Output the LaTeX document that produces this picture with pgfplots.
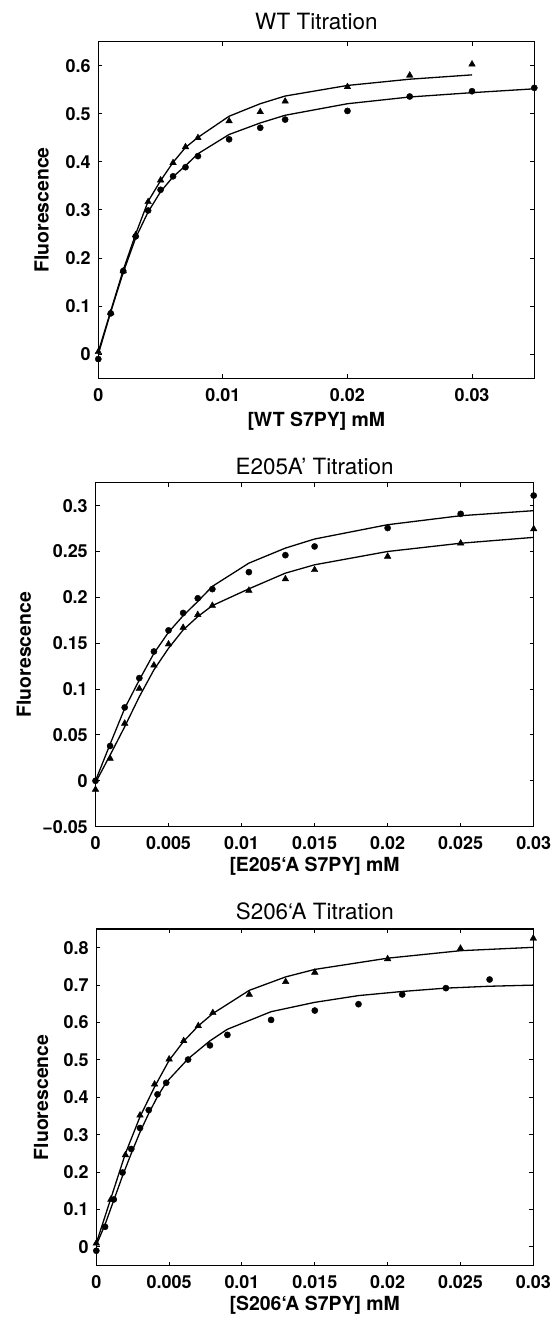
\documentclass[border=0pt]{standalone}
\usepackage{fontspec}
\setmainfont{TeX Gyre Heros}
\usepackage{pgfplots}
\pgfplotsset{compat=1.18}
\pgfplotsset{
  mystyle/.style={
    scale only axis,
    clip=false,
    axis line style={line width=1.1bp},
    every tick/.style={line width=1bp, black},
    major tick length=4bp,
    tick align=inside,
    scaled ticks=false,
    ticklabel style={font=\fontsize{18}{18}\selectfont\bfseries},
    xticklabel style={anchor=north, inner sep=0pt, yshift=-9.7bp},
    yticklabel style={anchor=east, inner sep=0pt, xshift=-7.6bp},
    every axis title/.style={font=\fontsize{22.5}{23}\selectfont, anchor=base, inner sep=0pt},
    every axis x label/.style={font=\fontsize{19.5}{20}\selectfont\bfseries, anchor=base, inner sep=0pt},
    every axis y label/.style={font=\fontsize{19.5}{20}\selectfont\bfseries, rotate=90, anchor=base, inner sep=0pt},
  },
  fitline/.style={black, line width=1.3bp, no marks},
  tri/.style={only marks, mark=triangle*, mark size=3.8bp, black},
  circ/.style={only marks, mark=*, mark size=3.1bp, black},
}
\begin{document}
\begin{tikzpicture}
\useasboundingbox (0,0) rectangle (555bp,1320bp);
% ---------------- Panel 1 ----------------
\begin{axis}[mystyle,
  at={(98.3bp,941.7bp)}, anchor=south west,
  width=436bp, height=336.6bp,
  xmin=0, xmax=0.035, ymin=-0.05, ymax=0.65,
  xtick={0,0.01,0.02,0.03}, xticklabels={0,0.01,0.02,0.03},
  ytick={0,0.1,0.2,0.3,0.4,0.5,0.6}, yticklabels={0,0.1,0.2,0.3,0.4,0.5,0.6},
  title={WT Titration},
  title style={at={(axis description cs:0.5,1.0377)}},
  xlabel={[WT S7PY] mM},
  xlabel style={at={(axis description cs:0.5,-0.1426)}},
  ylabel={Fluorescence},
  ylabel style={at={(axis description cs:-0.1142,0.5)}},
]
\addplot[fitline] coordinates {
(0,0.005) (0.001,0.090) (0.002,0.175) (0.003,0.250) (0.004,0.318) (0.005,0.361)
(0.006,0.399) (0.007,0.430) (0.008,0.451) (0.0105,0.495) (0.013,0.521) (0.015,0.537)
(0.02,0.559) (0.025,0.572) (0.03,0.581)};
\addplot[fitline] coordinates {
(0,0.0) (0.001,0.088) (0.002,0.170) (0.003,0.242) (0.004,0.296) (0.005,0.338)
(0.006,0.369) (0.007,0.392) (0.008,0.417) (0.0105,0.457) (0.013,0.481) (0.015,0.497)
(0.02,0.521) (0.025,0.535) (0.03,0.544) (0.035,0.552)};
\addplot[tri] coordinates {
(0,0.005) (0.001,0.086) (0.002,0.173) (0.003,0.248) (0.004,0.317) (0.005,0.362)
(0.006,0.398) (0.007,0.431) (0.008,0.450) (0.0105,0.485) (0.013,0.504) (0.015,0.526)
(0.02,0.556) (0.025,0.580) (0.03,0.603)};
\addplot[circ] coordinates {
(0,-0.010) (0.001,0.085) (0.002,0.173) (0.003,0.245) (0.004,0.299) (0.005,0.342)
(0.006,0.370) (0.007,0.389) (0.008,0.412) (0.0105,0.447) (0.013,0.471) (0.015,0.488)
(0.02,0.506) (0.025,0.536) (0.03,0.547) (0.035,0.554)};
\end{axis}
% ---------------- Panel 2 ----------------
\begin{axis}[mystyle,
  at={(95.5bp,493.3bp)}, anchor=south west,
  width=438.2bp, height=344bp,
  xmin=0, xmax=0.03, ymin=-0.05, ymax=0.325,
  xtick={0,0.005,0.01,0.015,0.02,0.025,0.03}, xticklabels={0,0.005,0.01,0.015,0.02,0.025,0.03},
  ytick={-0.05,0,0.05,0.1,0.15,0.2,0.25,0.3}, yticklabels={−0.05,0,0.05,0.1,0.15,0.2,0.25,0.3},
  title={E205A’ Titration},
  title style={at={(axis description cs:0.5,1.0244)}},
  xlabel={[E205‘A S7PY] mM},
  xlabel style={at={(axis description cs:0.5,-0.1294)}},
  ylabel={Fluorescence},
  ylabel style={at={(axis description cs:-0.1476,0.5)}},
]
\addplot[fitline] coordinates {
(0,0.0) (0.001,0.040) (0.002,0.079) (0.003,0.110) (0.004,0.139) (0.005,0.162)
(0.006,0.180) (0.007,0.1955) (0.008,0.212) (0.0105,0.2373) (0.013,0.2537) (0.015,0.2636)
(0.02,0.2792) (0.025,0.289) (0.03,0.2945)};
\addplot[fitline] coordinates {
(0,-0.002) (0.001,0.028) (0.002,0.059) (0.003,0.0917) (0.004,0.121) (0.005,0.1445)
(0.006,0.1645) (0.007,0.179) (0.008,0.191) (0.0105,0.2093) (0.013,0.2264) (0.015,0.2355)
(0.02,0.250) (0.025,0.259) (0.03,0.2654)};
\addplot[circ] coordinates {
(0,0.0) (0.001,0.038) (0.002,0.080) (0.003,0.112) (0.004,0.141) (0.005,0.164)
(0.006,0.183) (0.007,0.199) (0.008,0.209) (0.0105,0.2275) (0.013,0.246) (0.015,0.2555)
(0.02,0.2756) (0.025,0.291) (0.03,0.311)};
\addplot[tri] coordinates {
(0,-0.0095) (0.001,0.0244) (0.002,0.0626) (0.003,0.1005) (0.004,0.126) (0.005,0.149)
(0.006,0.167) (0.007,0.181) (0.008,0.191) (0.0105,0.2075) (0.013,0.220) (0.015,0.230)
(0.02,0.2446) (0.025,0.259) (0.03,0.2745)};
\end{axis}
% ---------------- Panel 3 ----------------
\begin{axis}[mystyle,
  at={(96.3bp,54.3bp)}, anchor=south west,
  width=437bp, height=336.7bp,
  xmin=0, xmax=0.03, ymin=-0.05, ymax=0.85,
  xtick={0,0.005,0.01,0.015,0.02,0.025,0.03}, xticklabels={0,0.005,0.01,0.015,0.02,0.025,0.03},
  ytick={0,0.1,0.2,0.3,0.4,0.5,0.6,0.7,0.8}, yticklabels={0,0.1,0.2,0.3,0.4,0.5,0.6,0.7,0.8},
  title={S206‘A Titration},
  title style={at={(axis description cs:0.5,1.0288)}},
  xlabel={[S206‘A S7PY] mM},
  xlabel style={at={(axis description cs:0.5,-0.1337)}},
  ylabel={Fluorescence},
  ylabel style={at={(axis description cs:-0.1101,0.5)}},
]
\addplot[fitline] coordinates {
(0,0.010) (0.001,0.130) (0.002,0.250) (0.003,0.348) (0.004,0.428) (0.005,0.499)
(0.006,0.550) (0.007,0.591) (0.008,0.624) (0.0105,0.686) (0.013,0.722) (0.015,0.742)
(0.02,0.772) (0.025,0.792) (0.03,0.801)};
\addplot[fitline] coordinates {
(0,0.005) (0.0006,0.060) (0.0012,0.125) (0.0018,0.190) (0.0024,0.250) (0.003,0.307)
(0.0036,0.357) (0.0042,0.402) (0.0048,0.440) (0.0063,0.503) (0.0078,0.551) (0.009,0.582)
(0.012,0.629) (0.015,0.654) (0.018,0.672) (0.021,0.683) (0.024,0.692) (0.027,0.697) (0.03,0.700)};
\addplot[tri] coordinates {
(0,0.010) (0.001,0.127) (0.002,0.246) (0.003,0.352) (0.004,0.435) (0.005,0.502)
(0.006,0.551) (0.007,0.591) (0.008,0.626) (0.0105,0.675) (0.013,0.709) (0.015,0.734)
(0.02,0.770) (0.025,0.798) (0.03,0.825)};
\addplot[circ] coordinates {
(0,-0.010) (0.0006,0.054) (0.0012,0.127) (0.0018,0.199) (0.0024,0.262) (0.003,0.318)
(0.0036,0.366) (0.0042,0.408) (0.0048,0.439) (0.0063,0.501) (0.0078,0.539) (0.009,0.567)
(0.012,0.607) (0.015,0.632) (0.018,0.649) (0.021,0.675) (0.024,0.692) (0.027,0.715)};
\end{axis}
\end{tikzpicture}
\end{document}
